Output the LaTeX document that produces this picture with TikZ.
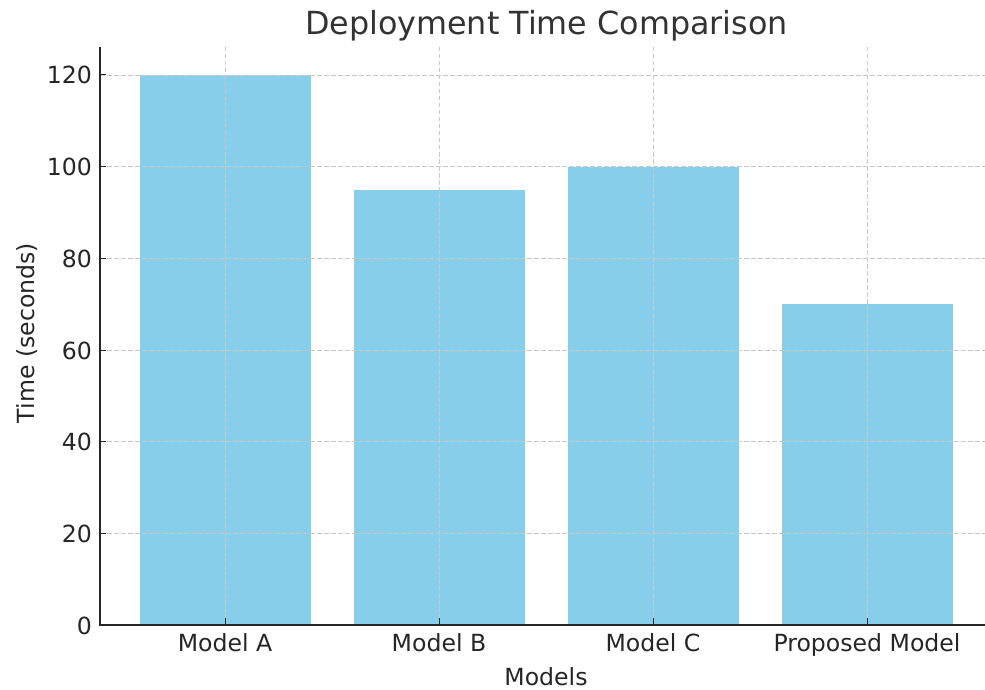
\documentclass[tikz,border=0pt]{standalone}
\usepackage{fontspec}
\setmainfont{DejaVu Sans}
\definecolor{skyblue}{HTML}{87CEEB}
\definecolor{txt}{HTML}{262626}
\definecolor{ttl}{HTML}{333333}
\definecolor{gridc}{HTML}{C8C8C8}
\begin{document}
\begin{tikzpicture}[x=1pt,y=-1pt,
  bar/.style={fill=skyblue,draw=none},
  gridline/.style={draw=gridc,line width=0.9pt,dash pattern=on 4.5pt off 2.5pt},
  spine/.style={draw=txt,line width=1.4pt},
  tickm/.style={draw=txt,line width=1pt},
  ticklab/.style={text=txt,font=\fontsize{23.6}{26}\selectfont,inner sep=0pt},
  titlelab/.style={text=ttl,font=\fontsize{31.8}{36}\selectfont,inner sep=0pt}]
\useasboundingbox (0,0) rectangle (985,690);
\fill[white] (0,0) rectangle (985,690);
% bars
\path[bar] (139.5,625) rectangle (310.5,75);
\path[bar] (353.5,625) rectangle (524.5,189.6);
\path[bar] (567.5,625) rectangle (738.5,166.7);
\path[bar] (781.5,625) rectangle (952.5,304.2);
% grid
\foreach \y in {533.3,441.7,350,258.3,166.7,75} {
  \draw[gridline] (100,\y) -- (985,\y);
}
\foreach \x in {225,439,653,867} {
  \draw[gridline] (\x,47) -- (\x,625);
}
% ticks
\foreach \y in {625,533.3,441.7,350,258.3,166.7,75} {
  \draw[tickm] (100,\y) -- (106,\y);
}
\foreach \x in {225,439,653,867} {
  \draw[tickm] (\x,625) -- (\x,618);
}
% spines
\draw[spine] (100,47) -- (100,625.7);
\draw[spine] (99.3,625) -- (985,625);
% y tick labels
\node[ticklab,anchor=base east] (y0) at (92,634) {0};
\node[ticklab,anchor=base east] (y20) at (92,542.3) {20};
\node[ticklab,anchor=base east] (y40) at (92,450.7) {40};
\node[ticklab,anchor=base east] (y60) at (92,359) {60};
\node[ticklab,anchor=base east] (y80) at (92,267.3) {80};
\node[ticklab,anchor=base east] (y100) at (92,175.7) {100};
\node[ticklab,anchor=base east] (y120) at (92,84) {120};
% x tick labels
\node[ticklab,anchor=base] (xa) at (225,651) {Model A};
\node[ticklab,anchor=base] (xb) at (439,651) {Model B};
\node[ticklab,anchor=base] (xc) at (653,651) {Model C};
\node[ticklab,anchor=base] (xp) at (867,651) {Proposed Model};
% axis labels
\node[ticklab,anchor=base] (xlabel) at (546,685) {Models};
\node[ticklab,rotate=90,anchor=base] (ylabel) at (34.5,333) {Time (seconds)};
% title
\node[titlelab,anchor=base] (title) at (546.5,35) {Deployment Time Comparison};
\end{tikzpicture}
\end{document}
